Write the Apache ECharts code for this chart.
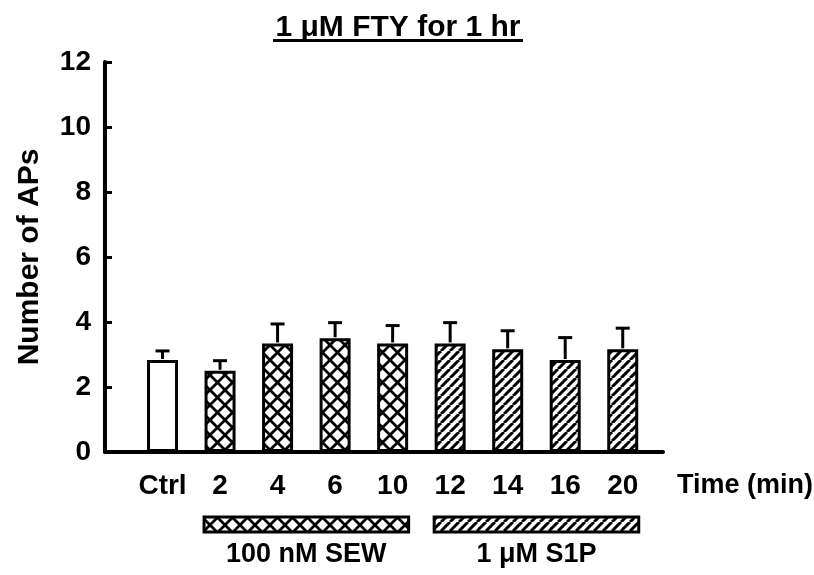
<!DOCTYPE html>
<html>
<head>
<meta charset="utf-8">
<script src="https://cdn.jsdelivr.net/npm/echarts@6/dist/echarts.min.js"></script>
<style>
  html, body { margin: 0; padding: 0; background: #fff; }
  #chart { width: 814px; height: 575px; }
</style>
</head>
<body>
<div id="chart"></div>
<script>
// data
var categories = ['Ctrl', '2', '4', '6', '10', '12', '14', '16', '20'];
var meanAPs = [2.83, 2.50, 3.34, 3.50, 3.34, 3.34, 3.16, 2.83, 3.16];
var semAPs = [0.28, 0.31, 0.60, 0.48, 0.55, 0.64, 0.57, 0.69, 0.65];
var treatment = ['ctrl', 'sew', 'sew', 'sew', 'sew', 's1p', 's1p', 's1p', 's1p'];
var bands = [
    { name: '100 nM SEW', group: 'sew' },
    { name: '1 μM S1P', group: 's1p' }
];

var FONT = 'Liberation Sans, Arial, sans-serif';

// fill patterns
function makeTile(size, lw, draw) {
    var c = document.createElement('canvas');
    c.width = c.height = size;
    var g = c.getContext('2d');
    g.fillStyle = '#fff';
    g.fillRect(0, 0, size, size);
    g.strokeStyle = '#000';
    g.lineWidth = lw;
    g.beginPath();
    draw(g, size);
    g.stroke();
    return c;
}
var crossTile = makeTile(15, 2.8, function (g, s) {
    g.moveTo(-2, -2); g.lineTo(s + 2, s + 2);
    g.moveTo(s + 2, -2); g.lineTo(-2, s + 2);
});
var diagTile = makeTile(9, 3, function (g, s) {
    for (var k = -1; k <= 1; k++) {
        g.moveTo(k * s, s);
        g.lineTo(k * s + s, 0);
    }
});
var fills = {
    ctrl: '#fff',
    sew: { image: crossTile, repeat: 'repeat' },
    s1p: { image: diagTile, repeat: 'repeat' }
};

var myChart = echarts.init(document.getElementById('chart'));

var barData = meanAPs.map(function (v, i) {
    return { value: [i + 1, v], itemStyle: { color: fills[treatment[i]] } };
});
var errData = meanAPs.map(function (v, i) {
    return [i + 1, v, semAPs[i]];
});

var option = {
    backgroundColor: '#fff',
    animation: false,
    grid: { left: 105, right: 151, top: 62, bottom: 123, outerBoundsMode: 'none' },
    xAxis: {
        type: 'value',
        min: 0,
        max: 9.7,
        interval: 1,
        splitLine: { show: false },
        axisTick: { show: false },
        axisLine: { show: true, lineStyle: { color: '#000', width: 4 } },
        axisLabel: {
            color: '#000', fontSize: 28, fontWeight: 'bold', fontFamily: FONT, margin: 20,
            showMaxLabel: false,
            formatter: function (v) { return categories[v - 1] || ''; }
        },
        name: 'Time (min)',
        nameLocation: 'end',
        nameGap: 14,
        nameTextStyle: {
            color: '#000', fontSize: 27, fontWeight: 'bold', fontFamily: FONT,
            align: 'left', verticalAlign: 'top', padding: [20, 0, 0, 0]
        }
    },
    yAxis: {
        type: 'value',
        min: 0,
        max: 12,
        interval: 2,
        splitLine: { show: false },
        axisLine: { show: true, lineStyle: { color: '#000', width: 4 } },
        axisTick: { show: true, inside: true, length: 7, lineStyle: { color: '#000', width: 3 } },
        axisLabel: { color: '#000', fontSize: 28, fontWeight: 'bold', fontFamily: FONT, margin: 14 },
        name: 'Number of APs',
        nameLocation: 'middle',
        nameGap: 60,
        nameTextStyle: { color: '#000', fontSize: 30, fontWeight: 'bold', fontFamily: FONT }
    },
    series: [
        {
            type: 'bar',
            barWidth: 31,
            data: barData,
            itemStyle: { borderColor: '#000', borderWidth: 3 },
            z: 2
        },
        {
            type: 'custom',
            data: errData,
            z: 3,
            renderItem: function (params, api) {
                var x = api.value(0), m = api.value(1), e = api.value(2);
                var base = api.coord([x, m]);
                var top = api.coord([x, m + e]);
                return {
                    type: 'group',
                    children: [
                        { type: 'line', shape: { x1: base[0], y1: base[1] - 1, x2: top[0], y2: top[1] },
                          style: { stroke: '#000', lineWidth: 3 } },
                        { type: 'line', shape: { x1: top[0] - 7, y1: top[1], x2: top[0] + 7, y2: top[1] },
                          style: { stroke: '#000', lineWidth: 3 } }
                    ]
                };
            }
        }
    ]
};
myChart.setOption(option);

// title with underline, treatment bands under the axis
var graphics = [
    { type: 'text', style: { text: '1 μM FTY for 1 hr', x: 398, y: 28, align: 'center', verticalAlign: 'middle',
        font: 'bold 30px ' + FONT, fill: '#000' } },
    { type: 'rect', shape: { x: 273, y: 39, width: 250, height: 3 }, style: { fill: '#000' } }
];
bands.forEach(function (b) {
    var idx = [];
    treatment.forEach(function (t, i) { if (t === b.group) idx.push(i + 1); });
    var p0 = myChart.convertToPixel({ gridIndex: 0 }, [idx[0], 0]);
    var p1 = myChart.convertToPixel({ gridIndex: 0 }, [idx[idx.length - 1], 0]);
    var x0 = p0[0] - 16, x1 = p1[0] + 16;
    graphics.push({ type: 'rect', shape: { x: x0, y: 517, width: x1 - x0, height: 15 },
        style: { fill: fills[b.group], stroke: '#000', lineWidth: 3 } });
    graphics.push({ type: 'text', style: { text: b.name, x: (x0 + x1) / 2, y: 555, align: 'center',
        verticalAlign: 'middle', font: 'bold 27px ' + FONT, fill: '#000' } });
});
myChart.setOption({ graphic: graphics });
</script>
</body>
</html>
